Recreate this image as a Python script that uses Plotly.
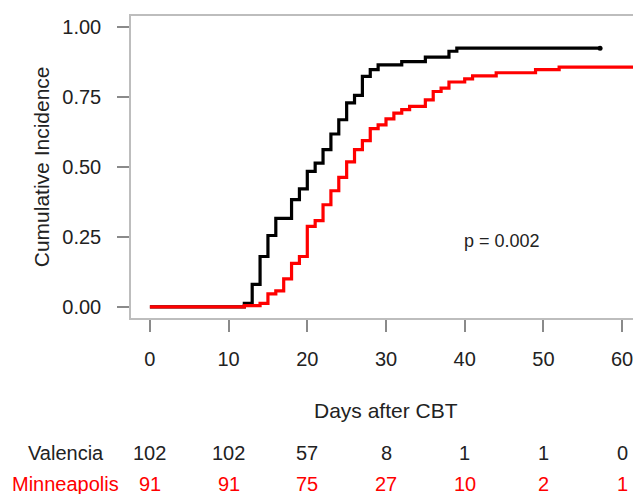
import plotly.graph_objects as go

# Cumulative incidence curves (step functions)
valencia_days = [0, 12, 13, 14, 15, 16, 18, 19, 20, 21, 22, 23, 24, 25, 26, 27, 28, 29, 32, 35, 38, 39, 57.2]
valencia_ci = [0, 0.012, 0.080, 0.180, 0.255, 0.316, 0.383, 0.422, 0.484, 0.514, 0.562, 0.618, 0.669,
               0.729, 0.756, 0.824, 0.848, 0.865, 0.877, 0.893, 0.914, 0.925, 0.925]

minneapolis_days = [0, 12, 14, 15, 16, 17, 18, 19, 20, 21, 22, 23, 24, 25, 26, 27, 28, 29, 30, 31, 32, 33,
                    35, 36, 37, 38, 40, 41, 44, 49, 52, 65]
minneapolis_ci = [0, 0.004, 0.012, 0.046, 0.057, 0.100, 0.155, 0.180, 0.288, 0.308, 0.365, 0.415, 0.463,
                  0.518, 0.562, 0.594, 0.637, 0.651, 0.672, 0.693, 0.705, 0.717, 0.740, 0.770, 0.782,
                  0.804, 0.815, 0.826, 0.837, 0.848, 0.857, 0.857]

# Axis ticks
x_ticks = [0, 10, 20, 30, 40, 50, 60]
y_ticks = [0, 0.25, 0.5, 0.75, 1.0]
y_tick_labels = ["0.00", "0.25", "0.50", "0.75", "1.00"]

# Number at risk table
risk_times = [0, 10, 20, 30, 40, 50, 60]
valencia_risk = [102, 102, 57, 8, 1, 1, 0]
minneapolis_risk = [91, 91, 75, 27, 10, 2, 1]

p_text = "p = 0.002"
p_pos = (44.8, 0.237)

FONT = "Liberation Sans, Arial, sans-serif"
TXT = "#222222"
RED = "#ff0000"

fig = go.Figure()
fig.add_trace(go.Scatter(x=valencia_days, y=valencia_ci, mode="lines", line=dict(shape="hv", color="black", width=3.2),
                         showlegend=False))
fig.add_trace(go.Scatter(x=[valencia_days[-1]], y=[valencia_ci[-1]], mode="markers",
                         marker=dict(color="black", size=5), showlegend=False))
fig.add_trace(go.Scatter(x=minneapolis_days, y=minneapolis_ci, mode="lines", line=dict(shape="hv", color=RED, width=3.2),
                         showlegend=False))

axis_common = dict(showgrid=False, zeroline=False, showline=True, mirror=True, linecolor="#bdbdbd", linewidth=1.5,
                   ticks="outside", ticklen=12, tickwidth=1.5, tickcolor="#8a8a8a", automargin=False,
                   tickfont=dict(family=FONT, size=20, color=TXT))

fig.update_xaxes(range=[-2.4, 62.4], tickvals=x_ticks, ticklabelstandoff=10, **axis_common)
fig.update_yaxes(range=[-0.04, 1.04], tickvals=y_ticks, ticktext=y_tick_labels, ticklabelstandoff=12, **axis_common)

ann = []
ann.append(dict(text="Cumulative Incidence", xref="paper", yref="paper", x=-0.176, y=0.5, textangle=-90,
                showarrow=False, font=dict(family=FONT, size=21, color=TXT), xanchor="center", yanchor="middle"))
ann.append(dict(text="Days after CBT", xref="x", yref="paper", x=30, y=-0.307, showarrow=False,
                font=dict(family=FONT, size=21, color=TXT), xanchor="center", yanchor="middle"))
ann.append(dict(text=p_text, xref="x", yref="y", x=p_pos[0], y=p_pos[1], showarrow=False,
                font=dict(family=FONT, size=18, color=TXT), xanchor="center", yanchor="middle"))
ann.append(dict(text="Valencia", xref="paper", yref="paper", x=-0.1275, y=-0.446, showarrow=False,
                font=dict(family=FONT, size=20, color=TXT), xanchor="center", yanchor="middle"))
ann.append(dict(text="Minneapolis", xref="paper", yref="paper", x=-0.1275, y=-0.551, showarrow=False,
                font=dict(family=FONT, size=20, color=RED), xanchor="center", yanchor="middle"))
for t, v, m in zip(risk_times, valencia_risk, minneapolis_risk):
    ann.append(dict(text=str(v), xref="x", yref="paper", x=t, y=-0.446, showarrow=False,
                    font=dict(family=FONT, size=20, color=TXT), xanchor="center", yanchor="middle"))
    ann.append(dict(text=str(m), xref="x", yref="paper", x=t, y=-0.551, showarrow=False,
                    font=dict(family=FONT, size=20, color=RED), xanchor="center", yanchor="middle"))

fig.update_layout(width=641, height=494, margin=dict(l=123, r=8.3, t=7.5, b=184, autoexpand=False),
                  paper_bgcolor="white", plot_bgcolor="white", annotations=ann)

fig.write_html("out.html")
